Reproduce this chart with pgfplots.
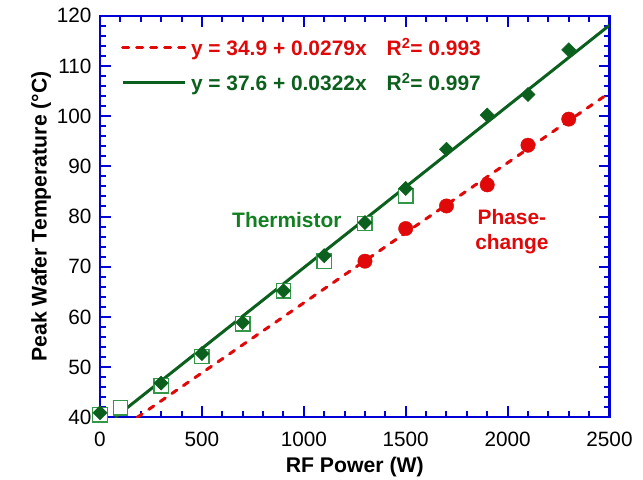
\documentclass[border=0pt]{standalone}
\usepackage{fontspec}
\setmainfont{Liberation Sans}
\usepackage{pgfplots}
\pgfplotsset{compat=1.18}

\definecolor{axisblue}{RGB}{0,0,215}
\definecolor{fitred}{RGB}{224,8,8}
\definecolor{darkgrn}{RGB}{12,96,30}
\definecolor{labelgrn}{RGB}{18,128,34}
\definecolor{sqgrn}{RGB}{52,150,72}

\begin{document}
\begin{tikzpicture}
\useasboundingbox (-100bp,-62.7bp) rectangle (543bp,417.3bp);
\begin{axis}[
  at={(0,0)}, anchor=south west,
  scale only axis, width=509.5bp, height=401.6bp,
  xmin=0, xmax=2500, ymin=40, ymax=120,
  xtick={0,500,...,2500}, ytick={40,50,...,120},
  minor x tick num=4, minor y tick num=4,
  tick align=inside,
  major tick length=11bp, minor tick length=6bp,
  axis line style={draw=axisblue, line width=2.2bp},
  tick style={draw=axisblue, line width=2bp},
  /pgf/number format/assume math mode=true,
  /pgf/number format/1000 sep={},
  tick label style={font=\fontsize{20.8}{24}\selectfont, text=black},
  xticklabel style={yshift=-11bp},
  yticklabel style={xshift=-5bp},
  label style={font=\fontsize{21.3}{25}\selectfont\bfseries, text=black},
  xlabel style={yshift=-4bp},
  ylabel style={yshift=-1bp},
  xlabel={RF Power (W)},
  ylabel={Peak Wafer Temperature (°C)},
  legend cell align=left,
  legend style={draw=none, fill=none, at={(0.035,0.955)}, anchor=north west,
    font=\fontsize{21}{25}\selectfont\bfseries, row sep=12bp,
    nodes={inner xsep=5bp}},
  legend image code/.code={\draw[#1] (0bp,0bp) -- (62bp,0bp);},
]
% linear fits
\addplot[fitred, line width=3bp, line cap=round, dash pattern=on 6bp off 8bp]
  coordinates {(182.8,40) (2500,104.65)};
\addlegendentry{\textcolor{fitred}{y = 34.9 + 0.0279x\hspace{20bp}R\textsuperscript{2}= 0.993}}
\addplot[darkgrn, line width=3bp]
  coordinates {(74.5,40) (2500,118.1)};
\addlegendentry{\textcolor{darkgrn}{y = 37.6 + 0.0322x\hspace{20bp}R\textsuperscript{2}= 0.997}}

% thermistor, second run (open squares)
\addplot[forget plot, only marks, mark=square*, mark size=7.2bp,
  mark options={draw=sqgrn, fill=white, line width=1.3bp}]
  coordinates {(0,40.5) (100,41.9) (300,46.3) (500,52.1) (700,58.6)
    (900,65.2) (1100,71.1) (1300,78.6) (1500,84.1)};
% thermistor (filled diamonds)
\addplot[forget plot, only marks, mark=square*, mark size=5bp,
  mark options={draw=darkgrn, fill=darkgrn, rotate=45, line width=0.5bp}]
  coordinates {(0,40.9) (300,46.8) (500,52.7) (700,58.9) (900,65.2)
    (1100,72.2) (1300,78.8) (1500,85.6) (1700,93.4) (1900,100.2)
    (2100,104.3) (2300,113.2)};
% phase-change (filled circles)
\addplot[forget plot, only marks, mark=*, mark size=7.2bp,
  mark options={draw=fitred, fill=fitred}]
  coordinates {(1300,71.1) (1500,77.6) (1700,82.1) (1900,86.3)
    (2100,94.2) (2300,99.4)};

\node[text=labelgrn, font=\fontsize{21}{25}\selectfont\bfseries]
  at (axis cs:917,79.3) {Thermistor};
\node[text=fitred, font=\fontsize{21}{25}\selectfont\bfseries, align=center]
  at (axis cs:2021,76.9) {Phase-\\change};
\end{axis}
\end{tikzpicture}
\end{document}
